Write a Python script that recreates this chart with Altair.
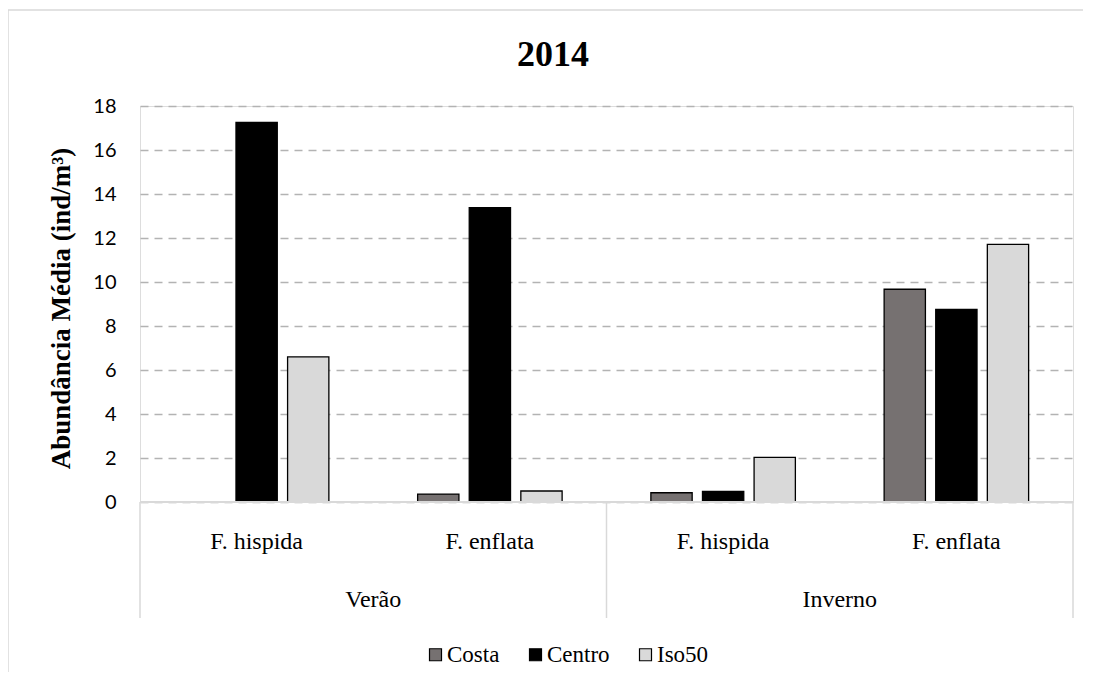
import altair as alt
import pandas as pd

# ---- data ----
title_text = "2014"
seasons = ["Verão", "Verão", "Inverno", "Inverno"]
species = ["F. hispida", "F. enflata", "F. hispida", "F. enflata"]
season_names = ["Verão", "Inverno"]
series = ["Costa", "Centro", "Iso50"]
costa = [0.0, 0.36, 0.42, 9.67]
centro = [17.26, 13.38, 0.48, 8.76]
iso50 = [6.6, 0.5, 2.03, 11.71]
colors = ["#767171", "#000000", "#d9d9d9"]
y_ticks = [0, 2, 4, 6, 8, 10, 12, 14, 16, 18]

W, H = 933, 396
SERIF = "Liberation Serif"
YTITLE = "Abundância Média (ind/m³)"

cats = [f"{s}|{sp}" for s, sp in zip(seasons, species)]
rows = []
for i, c in enumerate(cats):
    for name, vals in zip(series, [costa, centro, iso50]):
        rows.append({"cat": c, "serie": name, "value": vals[i]})
bars_df = pd.DataFrame(rows)

bars = (
    alt.Chart(bars_df)
    .transform_filter("datum.value > 0")
    .mark_bar(stroke="black", strokeWidth=1.3)
    .encode(
        x=alt.X("cat:N", sort=cats,
                scale=alt.Scale(domain=cats, paddingInner=0, paddingOuter=0),
                axis=None),
        xOffset=alt.XOffset("serie:N", sort=series,
                            scale=alt.Scale(domain=series, paddingInner=0.2, paddingOuter=0.86)),
        y=alt.Y("value:Q", title=YTITLE,
                scale=alt.Scale(domain=[0, 18], nice=False),
                axis=alt.Axis(values=y_ticks, grid=True, gridDash=[8, 6],
                              gridColor="#b3b3b3", gridWidth=1.5,
                              domain=False, ticks=False,
                              labelFont="Lato", labelFontSize=20, labelColor="#000000",
                              labelPadding=24,
                              titleFont=SERIF, titleFontSize=27, titleFontWeight="bold",
                              titleColor="#000000", titleAngle=270,
                              titleX=-79, titleY=H / 2 + 4,
                              titleAlign="center", titleBaseline="middle")),
        color=alt.Color("serie:N",
                        scale=alt.Scale(domain=series, range=colors),
                        legend=alt.Legend(title=None, orient="none", direction="horizontal",
                                          legendX=284, legendY=537,
                                          symbolType="square", symbolSize=144,
                                          symbolStrokeColor="black", symbolStrokeWidth=1.2,
                                          labelFont=SERIF, labelFontSize=23, labelColor="#000000",
                                          labelOffset=0, columnPadding=24)),
    )
)

zero_rule = (
    alt.Chart(pd.DataFrame({"value": [0]}))
    .mark_rule(color="#d9d9d9", strokeWidth=2)
    .encode(y=alt.Y("value:Q", title=YTITLE))
)

xq = alt.Scale(domain=[0, len(cats)], nice=False, zero=False)

species_text = (
    alt.Chart(pd.DataFrame({"pos": [i + 0.5 for i in range(len(species))], "label": species}))
    .mark_text(font=SERIF, fontSize=24, baseline="middle", color="#000000")
    .encode(x=alt.X("pos:Q", scale=xq, axis=None), y=alt.value(436), text="label:N")
)

season_text = (
    alt.Chart(pd.DataFrame({"pos": [2 * i + 1 for i in range(len(season_names))], "label": season_names}))
    .mark_text(font=SERIF, fontSize=24, baseline="middle", color="#000000")
    .encode(x=alt.X("pos:Q", scale=xq, axis=None), y=alt.value(494), text="label:N")
)

dividers = (
    alt.Chart(pd.DataFrame({"pos": [0, 2, 4]}))
    .mark_rule(color="#d9d9d9", strokeWidth=1.5)
    .encode(x=alt.X("pos:Q", scale=xq, axis=None), y=alt.value(H), y2=alt.value(H + 116))
)

title_mark = (
    alt.Chart(pd.DataFrame({"t": [title_text]}))
    .mark_text(font=SERIF, fontSize=36, fontWeight="bold", baseline="middle",
               align="center", color="#000000")
    .encode(x=alt.value(413), y=alt.value(-51), text="t:N")
)

frame_df = pd.DataFrame({"k": [0]})
border_left = alt.Chart(frame_df).mark_rule(color="#d9d9d9", strokeWidth=1.5).encode(
    x=alt.value(-132), y=alt.value(-96), y2=alt.value(H + 180))
border_top = alt.Chart(frame_df).mark_rule(color="#d9d9d9", strokeWidth=1.5).encode(
    x=alt.value(-132), x2=alt.value(W + 20), y=alt.value(-96))

chart = (
    alt.layer(bars, zero_rule, species_text, season_text, dividers, title_mark,
              border_left, border_top)
    .resolve_scale(x="independent")
    .properties(
        width=W, height=H,
        autosize=alt.AutoSizeParams(type="none"),
        padding={"left": 132, "top": 98, "right": 10, "bottom": 170},
    )
    .configure_view(stroke="transparent")
    .configure(background="white")
)

chart.save("out.html", embed_options={"renderer": "svg", "actions": False})
